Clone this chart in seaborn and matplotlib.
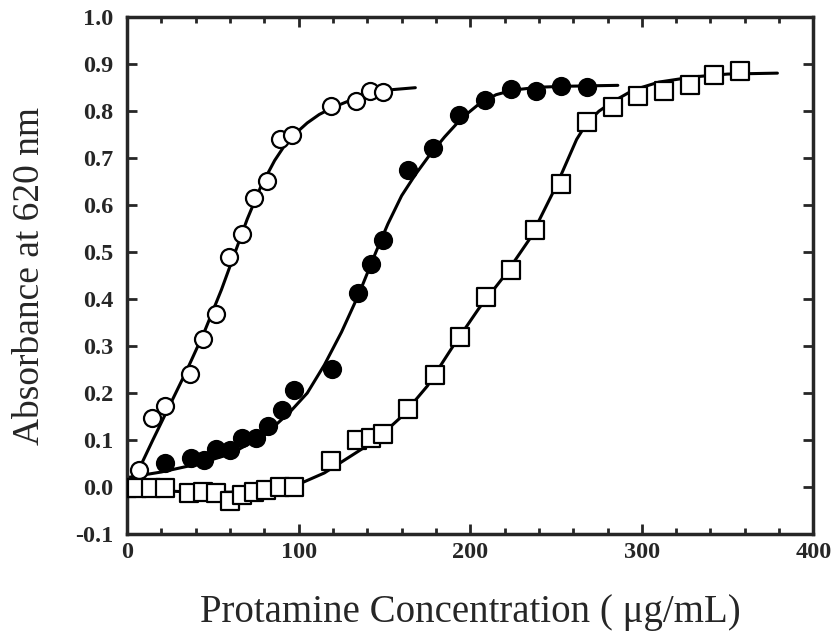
import matplotlib
matplotlib.use("Agg")
import matplotlib.pyplot as plt
import seaborn as sns
from matplotlib.ticker import MultipleLocator, FormatStrFormatter

# measured points
open_x = [7, 14.7, 22, 36.5, 44.4, 51.6, 59.3, 66.7, 73.8, 81.6, 89, 96, 119, 133.5, 141.5, 149]
open_y = [0.037, 0.146, 0.172, 0.241, 0.316, 0.368, 0.49, 0.538, 0.615, 0.651, 0.741, 0.75,
          0.812, 0.821, 0.842, 0.84]

filled_x = [22, 37, 45, 52, 60, 67, 75, 82, 90, 97, 119.4, 134.5, 142, 149.4, 164, 178.5,
            193.4, 208.5, 223.5, 238.2, 253, 268]
filled_y = [0.051, 0.061, 0.058, 0.082, 0.079, 0.104, 0.105, 0.13, 0.163, 0.206, 0.252, 0.414,
            0.474, 0.526, 0.674, 0.722, 0.791, 0.824, 0.848, 0.843, 0.854, 0.851]

square_x = [0, 6, 14, 22, 36, 44, 52, 60, 67, 74, 81, 89, 97, 119, 134, 142, 149, 164, 179.5,
            194, 209, 224, 238, 253, 268, 283, 298, 313, 328, 342, 357]
square_y = [-0.002, -0.002, -0.002, -0.002, -0.013, -0.011, -0.013, -0.029, -0.016, -0.011,
            -0.006, -0.001, 0.001, 0.055, 0.10, 0.105, 0.112, 0.167, 0.238, 0.32, 0.405, 0.463,
            0.548, 0.645, 0.778, 0.808, 0.833, 0.844, 0.856, 0.877, 0.886]

# fitted curves
open_fit_x = [5, 15, 25, 35, 45, 55, 62, 70, 78, 86, 92, 98, 105, 112, 120, 128, 136, 145,
              155, 168]
open_fit_y = [0.023, 0.10, 0.175, 0.25, 0.33, 0.42, 0.49, 0.57, 0.64, 0.695, 0.728, 0.752,
              0.775, 0.793, 0.808, 0.82, 0.83, 0.84, 0.846, 0.85]

filled_fit_x = [0, 20, 40, 60, 80, 95, 105, 115, 125, 135, 145, 152, 160, 168, 176, 185, 195,
                205, 215, 225, 240, 255, 270, 286]
filled_fit_y = [0.02, 0.032, 0.048, 0.07, 0.11, 0.16, 0.20, 0.26, 0.33, 0.41, 0.50, 0.56,
                0.62, 0.665, 0.705, 0.745, 0.785, 0.815, 0.835, 0.845, 0.851, 0.853, 0.854,
                0.855]

square_fit_x = [0, 20, 40, 60, 80, 100, 115, 130, 145, 160, 175, 190, 205, 220, 235, 250, 262,
                268, 275, 283, 295, 310, 330, 350, 379]
square_fit_y = [-0.002, -0.008, -0.011, -0.011, -0.006, 0.006, 0.03, 0.065, 0.10, 0.15, 0.215,
                0.30, 0.38, 0.45, 0.53, 0.64, 0.74, 0.775, 0.80, 0.82, 0.845, 0.862, 0.873,
                0.879, 0.881]

sns.set_theme(style="ticks")
plt.rcParams["font.family"] = ["Liberation Serif", "DejaVu Serif"]
plt.rcParams["axes.unicode_minus"] = False

fig = plt.figure(figsize=(8.36, 6.38), dpi=100)
ax = fig.add_axes([0.152, 0.163, 0.821, 0.810])

for fx, fy in [(open_fit_x, open_fit_y), (filled_fit_x, filled_fit_y),
               (square_fit_x, square_fit_y)]:
    sns.lineplot(x=fx, y=fy, ax=ax, color="black", linewidth=2.2, sort=False, zorder=2)

sns.scatterplot(x=open_x, y=open_y, ax=ax, marker="o", s=150, color="white",
                edgecolor="black", linewidth=1.6, zorder=3)
sns.scatterplot(x=filled_x, y=filled_y, ax=ax, marker="o", s=150, color="black",
                edgecolor="black", linewidth=1.6, zorder=3)
sns.scatterplot(x=square_x, y=square_y, ax=ax, marker="s", s=150, color="white",
                edgecolor="black", linewidth=1.6, zorder=3)

ax.set_xlim(0, 400)
ax.set_ylim(-0.1, 1.0)
ax.xaxis.set_major_locator(MultipleLocator(100))
ax.xaxis.set_minor_locator(MultipleLocator(20))
ax.yaxis.set_major_locator(MultipleLocator(0.1))
ax.yaxis.set_major_formatter(FormatStrFormatter("%.1f"))
ax.tick_params(which="both", direction="in", top=True, right=True, width=2)
ax.tick_params(which="major", length=7, labelsize=17.5)
ax.tick_params(axis="x", which="major", pad=6)
ax.tick_params(axis="y", which="major", pad=10)
ax.tick_params(which="minor", length=4)
ax.tick_params(axis="y", which="minor", length=0)
for lbl in ax.get_xticklabels() + ax.get_yticklabels():
    lbl.set_fontweight("bold")
for sp in ax.spines.values():
    sp.set_linewidth(2.5)
    sp.set_visible(True)

ax.set_xlabel("Protamine Concentration ( \u03bcg/mL)", fontsize=28, labelpad=22)
ax.set_ylabel("Absorbance at 620 nm", fontsize=27, labelpad=20)

fig.savefig("out.png", dpi=100)
